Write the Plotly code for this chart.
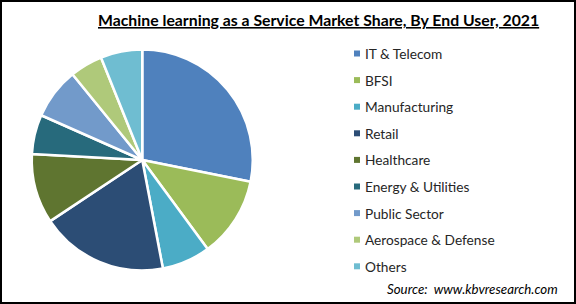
import plotly.graph_objects as go

labels = ["IT & Telecom", "BFSI", "Manufacturing", "Retail", "Healthcare",
          "Energy & Utilities", "Public Sector", "Aerospace & Defense", "Others"]
shares = [28.2, 11.8, 7.1, 18.7, 10.2, 5.8, 7.5, 4.8, 6.1]
colors = ["#4F81BD", "#9BBB59", "#4BACC6", "#2C4D75", "#5F7530",
          "#276A7C", "#729ACA", "#AFC97A", "#6FBDD1"]
title_text = "Machine learning as a Service Market Share, By End User, 2021"
source_label = "Source:"
source_url = "www.kbvresearch.com"

W, H = 576, 304
FONT = "Lato"

fig = go.Figure()
fig.add_trace(go.Pie(
    labels=labels, values=shares, sort=False, direction="clockwise",
    rotation=0, marker=dict(colors=colors, line=dict(color="white", width=2.5)),
    textinfo="none", hoverinfo="label+percent", showlegend=False,
    domain=dict(x=[31.5 / W, 253 / W], y=[1 - 270.5 / H, 1 - 49.5 / H]),
))

shapes = []
annotations = []
leg_x0 = 354
leg_y0 = 53.5
step = 26.6
for i, (lab, col) in enumerate(zip(labels, colors)):
    yc = leg_y0 + i * step
    shapes.append(dict(type="rect", xref="paper", yref="paper",
                       x0=leg_x0 / W, x1=(leg_x0 + 6) / W,
                       y0=1 - (yc + 3) / H, y1=1 - (yc - 3) / H,
                       fillcolor=col, line=dict(width=0)))
    annotations.append(dict(text=lab, xref="paper", yref="paper",
                            x=(leg_x0 + 9) / W, y=1 - yc / H,
                            xanchor="left", yanchor="middle", showarrow=False,
                            font=dict(family=FONT, size=13.7, color="#262626")))

annotations.append(dict(text="<b><u>" + title_text + "</u></b>", xref="paper", yref="paper",
                        x=318.5 / W, y=1 - 20 / H, xanchor="center", yanchor="middle",
                        showarrow=False, font=dict(family=FONT, size=15.8, color="black")))
annotations.append(dict(text="<i>" + source_label + "&nbsp;&nbsp;" + source_url + "</i>",
                        xref="paper", yref="paper",
                        x=560 / W, y=1 - 289 / H, xanchor="right", yanchor="middle",
                        showarrow=False, font=dict(family=FONT, size=13.3, color="black")))

shapes.append(dict(type="rect", xref="paper", yref="paper",
                   x0=1 / W, x1=1 - 1 / W, y0=1 / H, y1=1 - 1 / H,
                   line=dict(color="black", width=2), fillcolor="rgba(0,0,0,0)"))

fig.update_layout(
    width=W, height=H, margin=dict(l=0, r=0, t=0, b=0),
    paper_bgcolor="white", plot_bgcolor="white",
    shapes=shapes, annotations=annotations, showlegend=False,
)
fig.write_html("out.html")
